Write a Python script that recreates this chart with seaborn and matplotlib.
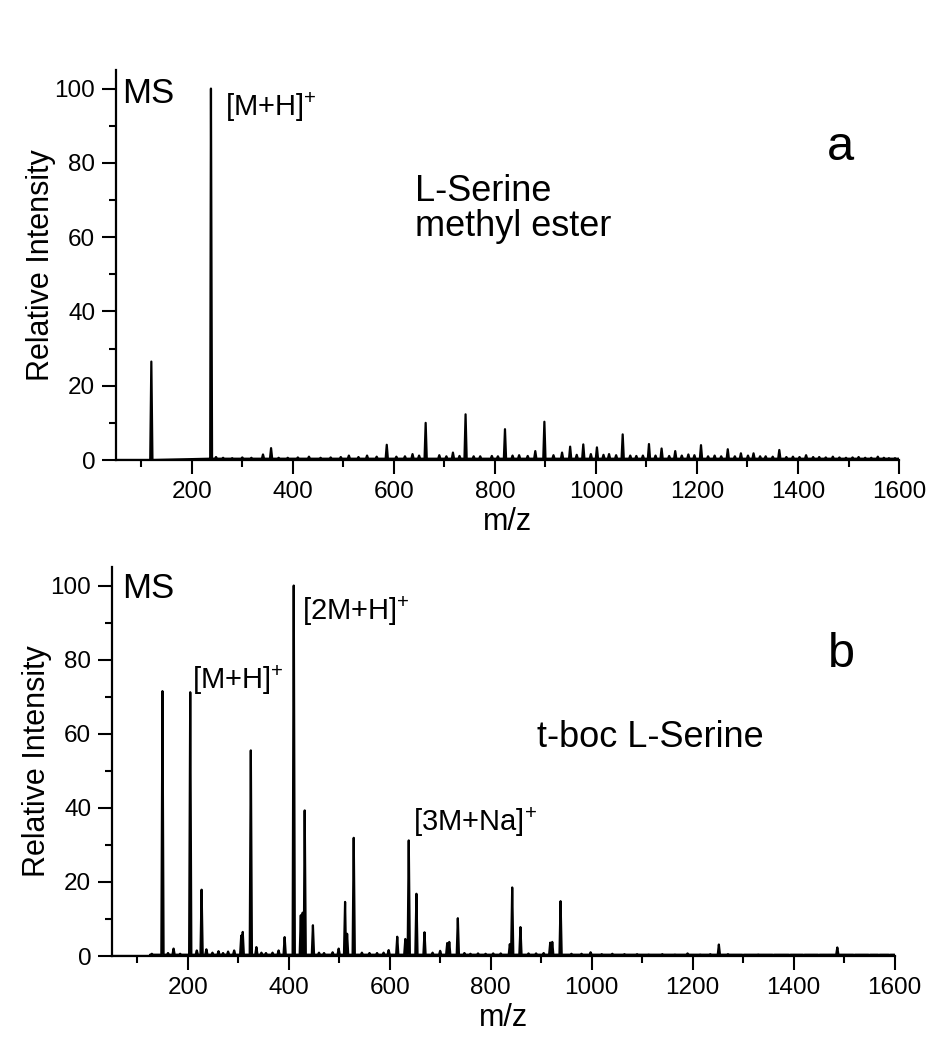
import numpy as np
import pandas as pd
import matplotlib
matplotlib.use("Agg")
import matplotlib.pyplot as plt
import seaborn as sns
from matplotlib.ticker import MultipleLocator

sns.set_theme(style="ticks")
plt.rcParams['font.family'] = ['Liberation Sans', 'DejaVu Sans']
plt.rcParams['mathtext.default'] = 'regular'
plt.rcParams['text.color'] = 'black'
plt.rcParams['axes.labelcolor'] = 'black'
plt.rcParams['xtick.color'] = 'black'
plt.rcParams['ytick.color'] = 'black'

# ---------------- data: panel a (L-Serine methyl ester) ----------------
mz_a = [120, 238, 248, 262, 280, 300, 318, 341, 357, 372, 390, 410, 432, 455,
        475, 495, 511, 530, 547, 566, 586, 605, 622, 637, 650, 663, 690, 704,
        717, 730, 742, 758, 771, 794, 806, 820, 835, 848, 865, 880, 898, 916,
        933, 949, 962, 975, 990, 1002, 1015, 1026, 1040, 1053, 1068, 1080,
        1093, 1105, 1118, 1130, 1145, 1157, 1170, 1183, 1195, 1208, 1222,
        1235, 1248, 1261, 1275, 1287, 1301, 1312, 1325, 1336, 1350, 1363,
        1377, 1390, 1403, 1416, 1430, 1442, 1455, 1469, 1482, 1495, 1508,
        1520, 1533, 1545, 1558, 1570, 1580, 1592]
int_a = [26.5, 100, 0.8, 0.6, 0.5, 0.7, 0.6, 1.5, 3.2, 0.6, 0.6, 0.7, 0.9, 0.6,
         0.7, 0.8, 1.2, 0.8, 1.2, 0.9, 4.1, 0.9, 1.0, 1.6, 1.2, 10.0, 1.3, 1.0,
         2.0, 1.1, 12.3, 1.0, 1.0, 1.1, 1.0, 8.3, 1.2, 1.3, 1.1, 2.4, 10.3, 1.3,
         2.0, 3.6, 1.4, 4.2, 1.6, 3.4, 1.4, 1.6, 1.3, 6.9, 1.2, 1.1,
         1.2, 4.3, 1.2, 3.1, 1.1, 2.4, 1.2, 1.5, 1.3, 4.0, 1.0,
         1.2, 1.0, 2.9, 1.0, 1.8, 1.2, 1.8, 1.0, 1.0, 0.9, 2.7,
         0.8, 0.9, 0.8, 1.3, 0.8, 0.8, 0.7, 0.9, 0.7, 0.6, 0.7,
         0.8, 0.6, 0.6, 0.9, 0.6, 0.5, 0.5]
noise_start_a = 236

# ---------------- data: panel b (t-boc L-Serine) ----------------
mz_b = [129, 150, 161, 172, 185, 205, 218, 227.5, 237, 249, 261, 270, 280, 292,
        306, 309, 325, 336, 346, 355, 368, 380, 392, 410, 424, 427.7, 431.7,
        448, 460, 470, 487, 499, 511.7, 515.7, 528.8, 545, 560, 575, 588, 598,
        615, 631, 637.8, 653, 669, 685, 700, 714, 718, 735, 748, 760, 775, 790,
        805, 820, 838, 842.7, 859, 875, 890, 905, 918, 922, 938.5, 960, 980,
        998, 1020, 1041, 1065, 1090, 1113, 1140, 1165, 1190, 1215, 1235, 1252,
        1270, 1300, 1330, 1360, 1392, 1420, 1450, 1486.6, 1520, 1550, 1569, 1590]
int_b = [0.6, 71.5, 0.8, 2.0, 0.6, 71.2, 1.5, 17.9, 1.8, 0.9, 1.3, 0.8, 1.2, 1.5,
         5.5, 6.5, 55.5, 2.4, 0.9, 0.8, 0.9, 1.5, 5.1, 100, 11.0, 11.7, 39.3,
         8.3, 0.9, 0.8, 1.0, 2.0, 14.6, 6.0, 31.9, 0.9, 0.8, 0.8, 0.9, 1.6,
         5.2, 4.6, 31.2, 16.8, 6.4, 0.9, 1.4, 3.5, 3.8, 10.2, 0.8, 0.6, 0.7, 0.6,
         0.7, 0.7, 3.2, 18.5, 7.8, 0.7, 0.7, 0.8, 3.6, 3.8, 14.8, 0.6, 0.6,
         1.0, 0.5, 0.6, 0.5, 0.5, 0.4, 0.5, 0.4, 0.7, 0.4, 0.5, 3.1,
         0.5, 0.3, 0.4, 0.3, 0.3, 0.3, 0.3, 2.3, 0.3, 0.3, 0.3, 0.3]
noise_start_b = 125

# axis settings
x_min, x_max = 50, 1600
y_min, y_max = 0, 105
y_ticks = [0, 20, 40, 60, 80, 100]
x_ticks = [200, 400, 600, 800, 1000, 1200, 1400, 1600]


def profile(mz, inten, noise_start, floor=0.35, hw=2.2):
    xs = [x_min, noise_start, noise_start + 0.5, x_max]
    ys = [0, 0, floor, floor]
    for m, h in zip(mz, inten):
        f = floor if m > noise_start else 0.0
        xs += [m - hw, m, m + hw]
        ys += [f, h, f]
    df = pd.DataFrame({"mz": xs, "intensity": ys}).sort_values("mz", kind="stable")
    return df


fig = plt.figure(figsize=(9.3, 10.37), dpi=100)
ax_a = fig.add_axes([0.1247, 0.5564, 0.842, 0.3761])
ax_b = fig.add_axes([0.1204, 0.0781, 0.8415, 0.3751])

for ax, mz, inten, ns in [(ax_a, mz_a, int_a, noise_start_a),
                          (ax_b, mz_b, int_b, noise_start_b)]:
    df = profile(mz, inten, ns)
    sns.lineplot(data=df, x="mz", y="intensity", ax=ax, sort=False,
                 estimator=None, color="black", linewidth=1.6)
    ax.set_xlim(x_min, x_max)
    ax.set_ylim(y_min, y_max)
    ax.set_xticks(x_ticks)
    ax.set_yticks(y_ticks)
    ax.xaxis.set_minor_locator(MultipleLocator(100))
    ax.yaxis.set_minor_locator(MultipleLocator(10))
    ax.tick_params(which="major", direction="out", length=10, width=1.5,
                   labelsize=17.5, color="black", labelcolor="black")
    ax.tick_params(axis="x", which="major", pad=5)
    ax.tick_params(axis="y", which="major", pad=5)
    ax.tick_params(which="minor", direction="out", length=5, width=1.5, color="black")
    for s in ["top", "right"]:
        ax.spines[s].set_visible(False)
    for s in ["left", "bottom"]:
        ax.spines[s].set_linewidth(1.6)
        ax.spines[s].set_color("black")
    ax.set_xlabel("m/z", fontsize=22, labelpad=3, color="black")
    ax.set_ylabel("Relative Intensity", fontsize=22, labelpad=-1, color="black")
    ax.set_facecolor("white")

# panel a annotations
ax_a.text(63, 96.2, "MS", fontsize=25, va="baseline", ha="left")
ax_a.text(266, 92.5, r"[M+H]$^{+}$", fontsize=21, va="baseline", ha="left")
ax_a.text(642, 69.6, "L-Serine", fontsize=26, va="baseline", ha="left")
ax_a.text(642, 60.2, "methyl ester", fontsize=26, va="baseline", ha="left")
ax_a.text(1457, 80.9, "a", fontsize=35, va="baseline", ha="left")

# panel b annotations
ax_b.text(70, 96.7, "MS", fontsize=25, va="baseline", ha="left")
ax_b.text(208, 72.1, r"[M+H]$^{+}$", fontsize=21, va="baseline", ha="left")
ax_b.text(426, 90.6, r"[2M+H]$^{+}$", fontsize=21, va="baseline", ha="left")
ax_b.text(646, 33.7, r"[3M+Na]$^{+}$", fontsize=21, va="baseline", ha="left")
ax_b.text(892, 56.4, "t-boc L-Serine", fontsize=26, va="baseline", ha="left")
ax_b.text(1467, 78.0, "b", fontsize=35, va="baseline", ha="left")

fig.savefig("out.png", dpi=100, facecolor="white")
